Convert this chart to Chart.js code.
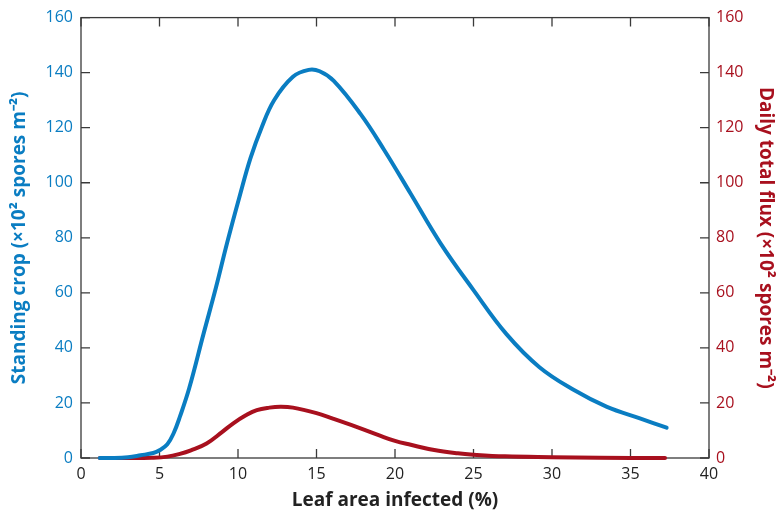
<html>
<head>
<title>Standing crop and daily flux</title>
<style>
    body { margin: 0; background: #fff; }
</style>
</head>
<body>
<canvas id="myChart" width="778" height="512"></canvas>
<script src="https://cdn.jsdelivr.net/npm/chart.js@4.4.1/dist/chart.umd.min.js"></script>
<script>

// values
const X_TICKS = [0, 5, 10, 15, 20, 25, 30, 35, 40];
const Y_TICKS = [0, 20, 40, 60, 80, 100, 120, 140, 160];

const crop_x = [1.2, 2, 3, 3.8, 4.6, 5, 5.5, 5.9, 6.3, 6.9, 7.8, 8.6, 9.3, 10.1, 10.8, 11.5, 12.3, 13.5, 14.5, 15.2, 16.1, 17.8, 19.3, 21, 22.9, 25, 27.1, 29.2, 31.4, 33.5, 35.6, 37.3];
const crop_y = [0, 0, 0.3, 1, 1.8, 2.8, 5, 9, 15, 25.5, 45, 62, 78, 95, 109, 120, 130, 138.5, 141, 140.5, 137, 125, 112, 96, 78, 61, 45, 33, 24.7, 18.6, 14.4, 11];

const flux_x = [1.2, 3, 4.5, 5.5, 6.3, 7, 8, 9, 9.7, 10.5, 11.2, 12, 12.7, 13.5, 15, 16, 17.5, 19, 20, 21, 22.5, 24, 25, 27, 30, 33, 37.2];
const flux_y = [0, 0, 0.1, 0.5, 1.5, 2.8, 5.3, 9.5, 12.6, 15.5, 17.4, 18.3, 18.6, 18.3, 16.3, 14.4, 11.4, 8.2, 6.2, 4.8, 2.9, 1.7, 1.2, 0.6, 0.3, 0.1, 0];

const BLUE = "#0a7dc2";
const RED = "#a8101e";
const AXIS = "#3a3a3a";
const FONT = "'Open Sans', sans-serif";

toPoints = function(xs, ys){
    return xs.map((x, i) => ({x: x, y: ys[i]}));
}

// box round the plot, ticks drawn inward on all four sides
const frameTicks = {
    id: 'frameTicks',
    beforeDatasetsDraw(chart){
        const ctx = chart.ctx;
        const a = chart.chartArea;
        const s = chart.scales;
        const len = 9;
        ctx.save();
        ctx.strokeStyle = AXIS;
        ctx.lineWidth = 1.3;
        ctx.strokeRect(a.left, a.top, a.right - a.left, a.bottom - a.top);
        ctx.beginPath();
        s.x.ticks.forEach(t => {
            let px = s.x.getPixelForValue(t.value);
            ctx.moveTo(px, a.bottom); ctx.lineTo(px, a.bottom - len);
            ctx.moveTo(px, a.top); ctx.lineTo(px, a.top + len);
        });
        s.y.ticks.forEach(t => {
            let py = s.y.getPixelForValue(t.value);
            ctx.moveTo(a.left, py); ctx.lineTo(a.left + len, py);
        });
        s.y2.ticks.forEach(t => {
            let py = s.y2.getPixelForValue(t.value);
            ctx.moveTo(a.right, py); ctx.lineTo(a.right - len, py);
        });
        ctx.stroke();
        ctx.restore();
    }
};

new Chart("myChart", {
    type: "line",
    data: {
        datasets: [{
            label: "Standing crop",
            data: toPoints(crop_x, crop_y),
            yAxisID: "y",
            borderColor: BLUE,
            borderWidth: 4,
            borderCapStyle: "round",
            pointRadius: 0,
            fill: false,
            tension: 0.4,
            clip: false
        }, {
            label: "Daily total flux",
            data: toPoints(flux_x, flux_y),
            yAxisID: "y2",
            borderColor: RED,
            borderWidth: 4,
            borderCapStyle: "round",
            pointRadius: 0,
            fill: false,
            tension: 0.4,
            clip: false
        }]
    },
    options: {
        responsive: false,
        animation: false,
        layout: { padding: { top: 17, left: 0, right: 0, bottom: 0 } },
        plugins: {
            legend: { display: false },
            tooltip: { enabled: false }
        },
        scales: {
            x: {
                type: "linear",
                min: 0, max: 40,
                afterBuildTicks: (scale) => { scale.ticks = X_TICKS.map(v => ({value: v})); },
                afterFit: (scale) => { scale.height = 54; },
                grid: { display: false, drawTicks: false },
                border: { display: false },
                ticks: { color: "#222", padding: 7, font: { family: FONT, size: 16 } },
                title: {
                    display: true,
                    text: "Leaf area infected (%)",
                    color: "#222",
                    padding: { top: 0, bottom: 0 },
                    font: { family: FONT, size: 19, weight: "bold" }
                }
            },
            y: {
                position: "left",
                min: 0, max: 160,
                afterBuildTicks: (scale) => { scale.ticks = Y_TICKS.map(v => ({value: v})); },
                afterFit: (scale) => { scale.width = 81; },
                grid: { display: false, drawTicks: false },
                border: { display: false },
                ticks: { color: BLUE, padding: 8, font: { family: FONT, size: 16 } },
                title: {
                    display: true,
                    text: "Standing crop (×10² spores m⁻²)",
                    color: BLUE,
                    padding: { top: 8, bottom: 0 },
                    font: { family: FONT, size: 19, weight: "bold" }
                }
            },
            y2: {
                position: "right",
                min: 0, max: 160,
                afterBuildTicks: (scale) => { scale.ticks = Y_TICKS.map(v => ({value: v})); },
                afterFit: (scale) => { scale.width = 69; },
                grid: { display: false, drawTicks: false },
                border: { display: false },
                ticks: { color: RED, padding: 7, font: { family: FONT, size: 16 } },
                title: {
                    display: true,
                    text: "Daily total flux (×10² spores m⁻²)",
                    color: RED,
                    padding: { top: 1, bottom: 0 },
                    font: { family: FONT, size: 19, weight: "bold" }
                }
            }
        }
    },
    plugins: [frameTicks]
});

</script>
</body>
</html>
